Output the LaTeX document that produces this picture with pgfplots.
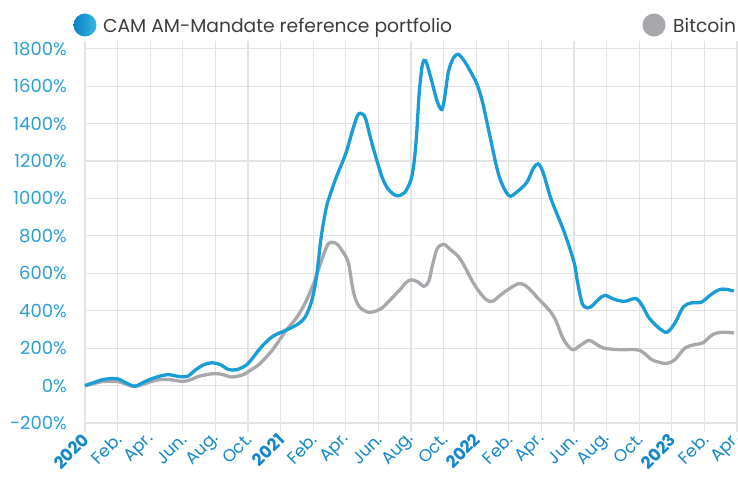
\documentclass[border=0pt]{standalone}
\usepackage{pgfplots}
\pgfplotsset{compat=1.18}
\usepackage{fontspec}
\setmainfont{Poppins}
\definecolor{cam}{HTML}{1A9CD8}
\definecolor{camdark}{HTML}{0B80C6}
\definecolor{camlight}{HTML}{36B6E6}
\definecolor{btc}{HTML}{A8A8AC}
\definecolor{gridc}{HTML}{E3E3E3}
\definecolor{ylab}{HTML}{2A9FD8}
\definecolor{xlab}{HTML}{1487CA}
\definecolor{legtext}{HTML}{3C3C3C}
\begin{document}
\begin{tikzpicture}[x=1pt,y=1pt]
\path[use as bounding box] (0,0) rectangle (738,477);
\begin{axis}[
 at={(85pt,45pt)}, anchor=south west,
 scale only axis, width=652pt, height=391pt,
 xmin=0, xmax=40, ymin=-248, ymax=1841,
 axis line style={draw=none},
 xtick={0,2,...,40},
 xticklabels={\textbf{2020},Feb.,Apr.,Jun.,Aug.,Oct.,\textbf{2021},Feb.,Apr.,Jun.,Aug.,Oct.,\textbf{2022},Feb.,Apr.,Jun.,Aug.,Oct.,\textbf{2023},Feb.,Apr.},
 ytick={-200,0,...,1800},
 yticklabels={-200\%,0\%,200\%,400\%,600\%,800\%,1000\%,1200\%,1400\%,1600\%,1800\%},
 grid=major, grid style={draw=gridc, line width=1.2pt},
 major tick length=0pt,
 xticklabel style={rotate=45, anchor=east, text=xlab, font=\fontsize{17}{17}\selectfont, inner sep=1pt, yshift=-4pt, xshift=-1.5pt},
 yticklabel style={text=ylab, font=\fontsize{18}{18}\selectfont, anchor=east, inner sep=0pt, xshift=-18pt},
 clip=false,
]
\addplot[btc, line width=3.3pt, smooth] coordinates {
(0,0) (0.6,12) (1.1,22) (2.0,22) (2.5,8) (3.0,-5) (3.5,5) (4.0,20) (4.6,32) (5.2,32)
(6.0,22) (6.5,32) (7.0,50) (7.9,64) (8.4,60) (9.0,46) (9.7,58) (10.2,85) (10.7,115)
(11.5,190) (12.3,290) (13.0,365) (13.5,440) (14.0,540) (14.5,665) (14.9,755) (15.2,765)
(15.5,753) (16.0,690) (16.2,640) (16.4,530) (16.6,460) (16.9,415) (17.4,392) (17.9,400)
(18.3,420) (18.8,465) (19.3,510) (19.7,550) (20.0,565) (20.4,555) (20.8,530) (21.1,560)
(21.3,637) (21.6,730) (22.0,755) (22.4,728) (22.9,690) (23.3,635) (23.75,560) (24.2,500)
(24.6,460) (25.0,450) (25.4,477) (25.9,510) (26.6,545) (27.0,535) (27.4,505) (27.8,465)
(28.2,430) (28.6,390) (28.9,345) (29.1,300) (29.4,240) (29.9,192) (30.4,215) (30.9,242)
(31.3,225) (31.8,201) (32.7,192) (33.8,192) (34.2,180) (34.76,139) (35.2,125) (35.7,118)
(36.2,139) (36.8,200) (37.4,219) (37.9,228) (38.5,272) (39.1,285) (39.8,281)
};
\addplot[cam, line width=3.3pt, smooth] coordinates {
(0,0) (0.5,15) (1,30) (1.5,37) (2,36) (2.4,20) (2.8,3) (3.1,-3) (3.6,18) (4.2,40)
(4.8,55) (5.2,58) (5.8,48) (6.3,50) (6.8,85) (7.3,112) (7.8,122) (8.3,112) (8.8,86)
(9.3,85) (9.9,110) (10.4,160) (10.8,205) (11.5,262) (12.3,295) (13.0,325) (13.5,365)
(13.9,450) (14.2,580) (14.5,800) (14.8,950) (15.0,1010) (15.4,1110) (16.0,1240)
(16.4,1360) (16.7,1440) (16.9,1455) (17.2,1430) (17.6,1295) (18.2,1120) (18.6,1050)
(19.1,1015) (19.6,1030) (20.0,1100) (20.2,1200) (20.35,1350) (20.5,1560) (20.7,1715)
(20.9,1735) (21.2,1650) (21.6,1520) (21.9,1475) (22.1,1560) (22.3,1680) (22.6,1750)
(22.9,1770) (23.3,1730) (23.7,1670) (24.06,1608) (24.4,1510) (24.8,1350) (25.4,1120)
(26.0,1015) (26.5,1035) (27.1,1085) (27.5,1160) (27.8,1185) (28.1,1140) (28.6,995)
(29.4,820) (30.0,660) (30.2,560) (30.5,440) (30.8,415) (31.1,425) (31.5,460) (31.9,482)
(32.5,460) (33.1,450) (33.8,465) (34.2,425) (34.6,362) (35.2,308) (35.7,285) (36.2,335)
(36.7,420) (37.2,442) (37.8,445) (38.4,486) (38.9,512) (39.3,515) (39.8,505)
};
\end{axis}
\shade[left color=camdark, right color=camlight] (85,452) circle (11.5);
\node[anchor=base west, inner sep=0pt, text=legtext, font=\fontsize{18.7}{18.7}\selectfont] at (103,444) {CAM AM-Mandate reference portfolio};
\fill[btc] (654,452) circle (11.5);
\node[anchor=base west, inner sep=0pt, text=legtext, font=\fontsize{18.7}{18.7}\selectfont] at (673,444) {Bitcoin};
\end{tikzpicture}
\end{document}
